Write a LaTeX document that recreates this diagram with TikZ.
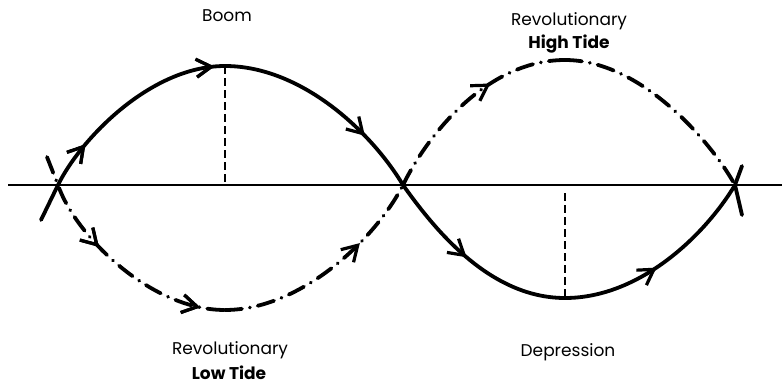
\documentclass[tikz,border=0pt]{standalone}
\usepackage{fontspec}
\setmainfont{Poppins}
\usetikzlibrary{arrows.meta,decorations.markings}
\begin{document}
\begin{tikzpicture}[x=1pt,y=-1pt,
  curve/.style={line width=3.8pt,line cap=round},
  dashdot/.style={curve,dash pattern=on 17pt off 8pt on 0.1pt off 8pt},
  axisline/.style={line width=2.4pt},
  guide/.style={line width=1.1pt,dash pattern=on 8pt off 4pt},
  arr/.style={postaction={decorate},decoration={markings,mark=at position #1 with {\arrow[line width=3.2pt]{Straight Barb[length=15pt,width=18pt]}}}},
  lbl/.style={font=\fontsize{17}{19}\selectfont,inner sep=0pt,anchor=base},
  blbl/.style={font=\fontsize{17}{19}\selectfont\bfseries,inner sep=0pt,anchor=base}]
\useasboundingbox (0,0) rectangle (782,386);
% axis
\coordinate (axL) at (8,185);
\coordinate (axR) at (782,185);
\draw[axisline] (axL) -- (axR);
% key points
\coordinate (s0) at (41,220);
\coordinate (x1) at (58,185);
\coordinate (p1) at (225,66);
\coordinate (x2) at (403,185);
\coordinate (t2) at (565,298);
\coordinate (x3) at (735,185);
\coordinate (s9) at (742,166);
\coordinate (d0) at (47,157);
\coordinate (b1) at (225,310);
\coordinate (h2) at (565,60);
\coordinate (d9) at (742,215);
\coordinate (a1) at (225,185);
\coordinate (a2) at (565,193);
% solid curve
\draw[curve] (s0) -- (x1);
\draw[curve,arr=0.23,arr=0.95] (x1) .. controls (80,140) and (150,66) .. (p1);
\draw[curve,arr=0.72] (p1) .. controls (300,66) and (370,130) .. (x2);
\draw[curve,arr=0.47] (x2) .. controls (435,230) and (490,298) .. (t2);
\draw[curve,arr=0.46] (t2) .. controls (640,298) and (705,235) .. (x3);
\draw[curve] (x3) -- (s9);
% dash-dot curve
\draw[dashdot,arr=0.42,arr=0.9] (d0) -- (x1) .. controls (75,235) and (150,310) .. (b1);
\draw[dashdot,arr=0.68] (b1) .. controls (300,310) and (375,240) .. (x2);
\draw[dashdot,arr=0.63] (x2) .. controls (430,130) and (490,60) .. (h2);
\draw[dashdot] (h2) .. controls (640,60) and (710,140) .. (x3);
\draw[curve] (x3) -- (d9);
% guides
\draw[guide] (p1) -- (a1);
\draw[guide] (a2) -- (t2);
% labels
\node[lbl] (boom) at (227,21) {Boom};
\node[lbl] (rh) at (569,25) {Revolutionary};
\node[blbl] (ht) at (569,48) {High Tide};
\node[lbl] (rl) at (230,354) {Revolutionary};
\node[blbl] (lt) at (229,379) {Low Tide};
\node[lbl] (dep) at (568,356) {Depression};
\end{tikzpicture}
\end{document}
